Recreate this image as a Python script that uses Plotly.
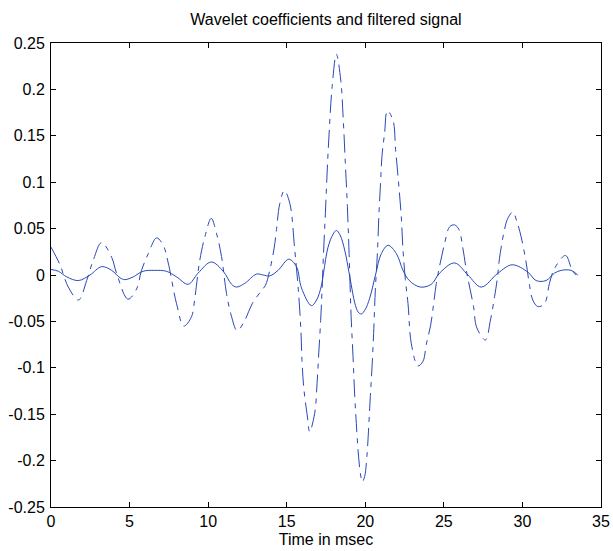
import plotly.graph_objects as go

# Wavelet coefficients (dash-dot curve)
time_coef = [0.00, 0.57, 1.10, 1.75, 2.27, 2.69, 3.22, 3.86, 4.17, 4.90, 5.45, 5.76, 6.19, 6.72,
             7.14, 7.46, 7.99, 8.45, 8.94, 9.15, 9.47, 9.79, 10.20, 10.53, 10.85, 11.17, 11.46,
             11.85, 12.33, 12.80, 13.43, 13.65, 13.92, 14.20, 14.35, 14.56, 14.85, 15.20, 15.50,
             15.74, 15.90, 15.98, 16.10, 16.32, 16.46, 16.78, 16.93, 17.04, 17.16, 17.25, 17.34,
             17.46, 17.57, 17.70, 17.89, 18.16, 18.44, 18.59, 18.74, 18.86, 18.97, 19.10, 19.22,
             19.33, 19.43, 19.54, 19.69, 19.81, 19.96, 20.10, 20.22, 20.32, 20.43, 20.53, 20.64,
             20.77, 20.87, 20.98, 21.06, 21.23, 21.40, 21.76, 21.93, 22.12, 22.29, 22.40, 22.55,
             22.72, 22.93, 23.35, 23.67, 23.88, 24.16, 24.35, 24.52, 24.77, 25.05, 25.37, 25.68,
             25.96, 26.21, 26.43, 26.64, 26.89, 27.10, 27.65, 27.95, 28.23, 28.40, 28.54, 28.86,
             29.07, 29.39, 29.64, 29.92, 30.24, 30.45, 30.66, 30.98, 31.40, 31.72, 32.04, 32.74,
             33.17, 33.42]
coef = [0.030, 0.011, -0.013, -0.027, -0.006, 0.016, 0.035, 0.019, 0.002, -0.026, -0.015, 0.005,
        0.023, 0.040, 0.032, 0.013, -0.031, -0.055, -0.045, -0.025, 0.016, 0.041, 0.061, 0.045,
        0.020, -0.020, -0.043, -0.060, -0.049, -0.031, -0.016, -0.011, 0.005, 0.029, 0.049, 0.077,
        0.091, 0.077, 0.029, -0.016, -0.059, -0.095, -0.124, -0.153, -0.169, -0.149, -0.117,
        -0.084, -0.049, -0.016, 0.023, 0.066, 0.110, 0.153, 0.203, 0.238, 0.210, 0.170, 0.117,
        0.074, 0.023, -0.045, -0.088, -0.131, -0.160, -0.189, -0.214, -0.223, -0.217, -0.196,
        -0.163, -0.131, -0.099, -0.063, -0.016, 0.023, 0.066, 0.102, 0.128, 0.153, 0.177, 0.167,
        0.135, 0.099, 0.063, 0.027, -0.005, -0.031, -0.074, -0.098, -0.093, -0.075, -0.054,
        -0.031, -0.009, 0.013, 0.034, 0.052, 0.054, 0.049, 0.029, 0.005, -0.013, -0.034, -0.057,
        -0.070, -0.050, -0.023, -0.004, 0.018, 0.049, 0.061, 0.068, 0.058, 0.041, 0.013, -0.011,
        -0.027, -0.034, -0.031, -0.009, 0.007, 0.021, 0.005, 0.000]

# Filtered signal (solid curve)
time_filt = [0.00, 0.47, 1.00, 1.74, 2.48, 3.22, 3.86, 4.39, 4.70, 5.23, 5.85, 6.60, 7.35, 7.99,
             8.73, 9.36, 10.20, 10.96, 11.49, 11.80, 12.33, 13.08, 13.50, 13.92, 14.45, 15.13,
             15.62, 15.94, 16.57, 16.90, 17.20, 17.35, 17.63, 17.95, 18.16, 18.40, 18.70, 18.95,
             19.10, 19.33, 19.55, 19.75, 20.00, 20.28, 20.65, 21.02, 21.45, 21.98, 22.40, 22.80,
             23.50, 24.20, 24.73, 25.68, 26.53, 27.38, 28.44, 29.35, 30.35, 30.87, 31.50, 32.04,
             32.47, 33.10, 33.52]
filt = [0.006, 0.004, -0.002, -0.006, 0.000, 0.009, 0.005, -0.003, -0.005, -0.002, 0.004, 0.005,
        0.004, -0.002, -0.010, 0.002, 0.014, 0.004, -0.010, -0.013, -0.009, 0.001, 0.000, -0.001,
        0.005, 0.017, 0.009, -0.014, -0.033, -0.027, -0.012, 0.003, 0.030, 0.044, 0.048, 0.043,
        0.026, 0.004, -0.010, -0.030, -0.040, -0.042, -0.037, -0.025, 0.000, 0.023, 0.032, 0.023,
        0.005, -0.006, -0.013, -0.010, 0.002, 0.013, 0.000, -0.013, 0.002, 0.011, 0.003, -0.006,
        -0.006, 0.002, 0.005, 0.005, 0.000]

x_ticks = [0, 5, 10, 15, 20, 25, 30, 35]
y_ticks = [-0.25, -0.2, -0.15, -0.1, -0.05, 0, 0.05, 0.1, 0.15, 0.2, 0.25]
y_tick_text = ["-0.25", "-0.2", "-0.15", "-0.1", "-0.05", "0", "0.05", "0.1", "0.15", "0.2", "0.25"]

LINE = "rgb(40,72,184)"
FONT = "Liberation Sans, Arial, sans-serif"

fig = go.Figure()
fig.add_trace(go.Scatter(x=time_coef, y=coef, mode="lines", line_shape="spline",
                         line=dict(color=LINE, width=1, dash="18px,6px,5px,6px"),
                         name="Wavelet coefficients", showlegend=False))
fig.add_trace(go.Scatter(x=time_filt, y=filt, mode="lines", line_shape="spline",
                         line=dict(color=LINE, width=1),
                         name="Filtered signal", showlegend=False))

axis_common = dict(showline=True, linecolor="black", linewidth=1, mirror="ticks",
                   ticks="inside", ticklen=5, tickcolor="black", showgrid=False,
                   zeroline=False, automargin=False,
                   tickfont=dict(family=FONT, size=16, color="black"))

fig.update_xaxes(range=[0, 35], tickvals=x_ticks, ticktext=[str(v) for v in x_ticks],
                 title=dict(text="Time in msec", font=dict(family=FONT, size=16, color="black"),
                            standoff=4),
                 **axis_common)
fig.update_yaxes(range=[-0.25, 0.25], tickvals=y_ticks, ticktext=y_tick_text,
                 ticklabelstandoff=2, **axis_common)

fig.update_layout(
    width=613, height=551,
    margin=dict(l=51, r=12, t=43, b=44),
    paper_bgcolor="white", plot_bgcolor="white",
    title=dict(text="Wavelet coefficients and filtered signal", x=0.5, xref="paper",
               y=1 - 19 / 551, yref="container", yanchor="middle", xanchor="center",
               font=dict(family=FONT, size=16, color="black")),
)

fig.write_html("out.html", config={"displayModeBar": False},
               post_script="document.body.style.margin='0';document.body.style.overflow='hidden';")
